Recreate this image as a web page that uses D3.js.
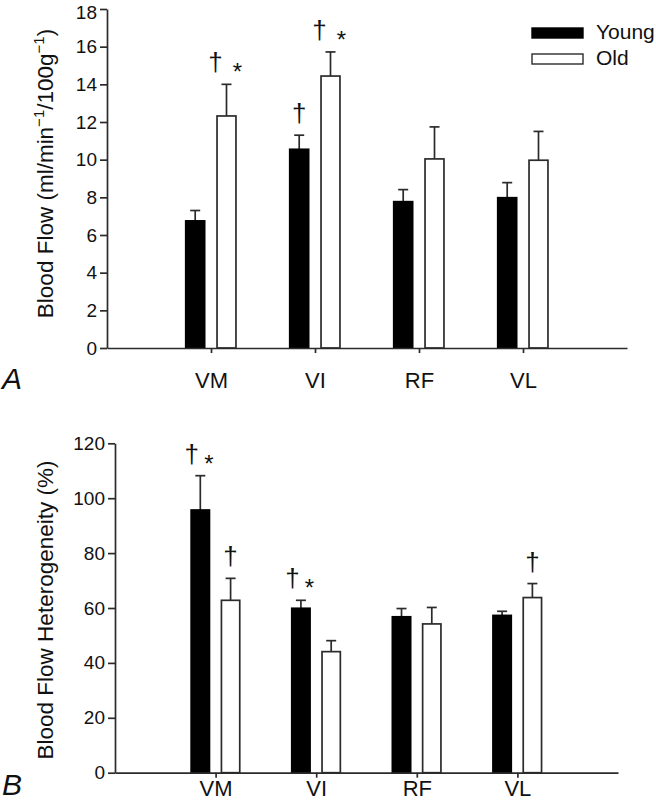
<!DOCTYPE html>
<html>
<head>
<meta charset="utf-8">
<script src="https://cdn.jsdelivr.net/npm/d3@7"></script>
<style>
  html, body { margin: 0; padding: 0; background: #fff; }
  svg { display: block; font-family: "Liberation Sans", Arial, sans-serif; }
</style>
</head>
<body>
<svg id="chart" width="656" height="803"></svg>
<script>
// ---------------- data ----------------
const categories = ["VM", "VI", "RF", "VL"];
const seriesNames = ["Young", "Old"];

// Panel A: blood flow (ml/min-1/100g-1)
const flowYoung    = [6.75, 10.55, 7.77, 7.98];
const flowYoungErr = [0.55, 0.75, 0.64, 0.80];
const flowOld      = [12.32, 14.44, 10.04, 9.97];
const flowOldErr   = [1.68, 1.28, 1.70, 1.53];
const flowTicks    = [0, 2, 4, 6, 8, 10, 12, 14, 16, 18];
const flowYoungMarks = ["", "†", "", ""];
const flowOldMarks   = ["†*", "†*", "", ""];

// Panel B: blood flow heterogeneity (%)
const hetYoung    = [95.7, 59.9, 56.8, 57.3];
const hetYoungErr = [12.5, 2.9, 3.0, 1.5];
const hetOld      = [62.8, 44.1, 54.2, 63.8];
const hetOldErr   = [8.0, 4.0, 6.0, 5.1];
const hetTicks    = [0, 20, 40, 60, 80, 100, 120];
const hetYoungMarks = ["†*", "†*", "", ""];
const hetOldMarks   = ["†", "", "", "†"];

// ---------------- drawing ----------------
const svg = d3.select("#chart");
const ink = "#2b2b2b";
const FONT = "Liberation Sans, Arial, sans-serif";

function panel(opts) {
  const g = svg.append("g");
  const x = d3.scalePoint().domain(categories).range([opts.left, opts.right]).padding(1);
  const y = d3.scaleLinear().domain([0, opts.ticks[opts.ticks.length - 1]]).range([opts.bottom, opts.top]);
  const step = x.step();
  const off = { Young: -0.152 * step, Old: 0.149 * step };
  const bw = 0.182 * step;

  const series = [
    { name: "Young", vals: opts.young, errs: opts.youngErr, marks: opts.youngMarks },
    { name: "Old", vals: opts.old, errs: opts.oldErr, marks: opts.oldMarks }
  ];

  series.forEach(s => {
    const sg = g.append("g");
    categories.forEach((c, i) => {
      const cx = x(c) + off[s.name];
      const top = y(s.vals[i]);
      const et = y(s.vals[i] + s.errs[i]);
      // error bar (upward only)
      sg.append("line").attr("x1", cx).attr("x2", cx).attr("y1", top).attr("y2", et)
        .attr("stroke", ink).attr("stroke-width", 1.7);
      sg.append("line").attr("x1", cx - 5).attr("x2", cx + 5).attr("y1", et).attr("y2", et)
        .attr("stroke", ink).attr("stroke-width", 1.7);
      // bar
      sg.append("rect")
        .attr("x", cx - bw / 2).attr("y", top)
        .attr("width", bw).attr("height", y(0) - top)
        .attr("fill", s.name === "Young" ? "#000" : "#fff")
        .attr("stroke", s.name === "Young" ? "#000" : ink)
        .attr("stroke-width", 1.7);
      // significance marks
      const m = s.marks[i];
      if (m) {
        const base = et - 13;
        if (m === "†") {
          sg.append("text").attr("x", cx).attr("y", base).attr("text-anchor", "middle")
            .attr("font-size", 26).attr("fill", "#111").text("†");
        } else {
          const gap = opts.markGap;
          sg.append("text").attr("x", cx - gap / 2).attr("y", base).attr("text-anchor", "middle")
            .attr("font-size", 26).attr("fill", "#111").text("†");
          sg.append("text").attr("x", cx + gap / 2).attr("y", base + 9).attr("text-anchor", "middle")
            .attr("font-size", 24).attr("fill", "#111").text("*");
        }
      }
    });
  });

  // y axis
  const ya = g.append("g").attr("transform", `translate(${opts.left},0)`)
    .call(d3.axisLeft(y).tickValues(opts.ticks).tickSize(7).tickPadding(3).tickSizeOuter(0));
  ya.selectAll("text").attr("font-size", 19).attr("fill", "#111").attr("font-family", FONT);
  // keep the topmost tick label inside the picture
  ya.selectAll(".tick text").filter(d => d === opts.ticks[opts.ticks.length - 1])
    .attr("dy", opts.topLabelDy);
  // x axis
  const xa = g.append("g").attr("transform", `translate(0,${opts.bottom})`)
    .call(d3.axisBottom(x).tickSize(5).tickPadding(opts.catPad).tickSizeOuter(0));
  xa.selectAll("text").attr("font-size", 22).attr("fill", "#111").attr("font-family", FONT);
  [ya, xa].forEach(a => {
    a.selectAll("path, line").attr("stroke", ink).attr("stroke-width", 1.7);
  });

  // y axis title
  const t = g.append("text")
    .attr("transform", `translate(${opts.titleX},${(opts.top + opts.bottom) / 2 + opts.titleShift}) rotate(-90)`)
    .attr("text-anchor", "middle").attr("font-size", 22.5).attr("fill", "#111");
  opts.title(t);

  // panel letter
  g.append("text").attr("x", 2).attr("y", opts.letterY)
    .attr("font-size", 30).attr("font-style", "italic").attr("fill", "#111").text(opts.letter);
}

panel({
  left: 107, right: 627, top: 9, bottom: 348,
  ticks: flowTicks, young: flowYoung, youngErr: flowYoungErr, old: flowOld, oldErr: flowOldErr,
  youngMarks: flowYoungMarks, oldMarks: flowOldMarks, markGap: 22, catPad: 19,
  titleX: 53, titleShift: -5, letter: "A", letterY: 389, topLabelDy: "0.5em",
  title: t => {
    t.append("tspan").text("Blood Flow (ml/min");
    t.append("tspan").attr("font-size", 15).attr("dy", -9).text("−1");
    t.append("tspan").attr("dy", 9).text("/100g");
    t.append("tspan").attr("font-size", 15).attr("dy", -9).text("−1");
    t.append("tspan").attr("dy", 9).text(")");
  }
});

panel({
  left: 115, right: 618, top: 443.3, bottom: 772.7,
  ticks: hetTicks, young: hetYoung, youngErr: hetYoungErr, old: hetOld, oldErr: hetOldErr,
  youngMarks: hetYoungMarks, oldMarks: hetOldMarks, markGap: 17, catPad: 3,
  titleX: 53, titleShift: 2, letter: "B", letterY: 795, topLabelDy: "0.32em",
  title: t => { t.text("Blood Flow Heterogeneity (%)"); }
});

// legend
const legend = svg.append("g");
seriesNames.forEach((n, i) => {
  const ly = 28 + i * 26;
  legend.append("rect").attr("x", 532).attr("y", ly).attr("width", 51).attr("height", 10)
    .attr("fill", n === "Young" ? "#000" : "#fff")
    .attr("stroke", n === "Young" ? "#000" : ink).attr("stroke-width", 1.4);
  legend.append("text").attr("x", 596).attr("y", ly + 11).attr("font-size", 21)
    .attr("fill", "#111").text(n);
});
</script>
</body>
</html>
